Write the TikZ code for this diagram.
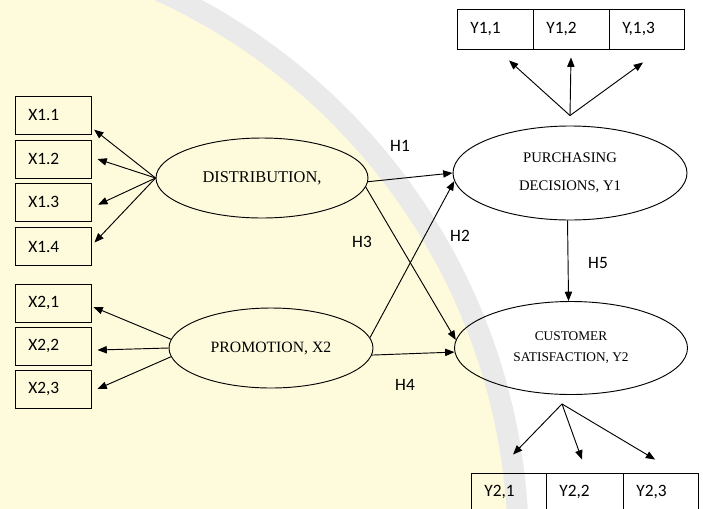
\documentclass[tikz,border=0pt]{standalone}
\usepackage{fontspec}
\setmainfont{Liberation Serif}
\newfontfamily\carl{Carlito}
\usetikzlibrary{arrows.meta,shapes.geometric,calc}
\definecolor{cream}{HTML}{FEFBDD}
\definecolor{wmgray}{HTML}{EAEAEA}
\begin{document}
\begin{tikzpicture}[x=0.75pt,y=-0.75pt,
 line width=0.7pt,
 box/.style={draw, minimum height=28.5pt, inner xsep=10pt, inner ysep=0pt, text width=#1, align=left, font=\carl\fontsize{13}{15}\selectfont},
 ell/.style={draw, ellipse, inner sep=0pt, align=center},
 hlab/.style={font=\carl\fontsize{13}{15}\selectfont},
 arr/.style={-{Triangle[length=7pt,width=5.5pt]}, line width=0.7pt},
]
\clip (0,0) rectangle (703,508);
\fill[white] (0,0) rectangle (703,508);
% faint watermark background
\fill[wmgray] (-95,549) circle[radius=468pt];
\fill[cream] (-95,549) circle[radius=452pt];

% left indicator boxes
\node[box=37pt] (X11) at (53,115) {X1.1};
\node[box=37pt] (X12) at (53,159) {X1.2};
\node[box=37pt] (X13) at (53,202) {X1.3};
\node[box=37pt] (X14) at (53,246.5) {X1.4};
\node[box=37pt] (X21) at (53,303) {X2,1};
\node[box=37pt] (X22) at (53,346) {X2,2};
\node[box=37pt] (X23) at (53,389) {X2,3};

% top boxes
\node[box=37pt, minimum height=30pt] (Y11) at (495,29) {Y1,1};
\node[box=37pt, minimum height=30pt] (Y12) at (571,29) {Y1,2};
\node[box=36.25pt, minimum height=30pt] (Y13) at (646.5,29) {Y,1,3};

% bottom boxes
\node[box=36.25pt] (Y21) at (508.5,492) {Y2,1};
\node[box=37.75pt] (Y22) at (584.5,492) {Y2,2};
\node[box=36.25pt] (Y23) at (660.5,492) {Y2,3};

% latent variables
\node[ell, minimum width=159pt, minimum height=60pt, font=\fontsize{12.3}{15}\selectfont] (D) at (262,178) {DISTRIBUTION,};
\node[ell, minimum width=153pt, minimum height=60pt, font=\fontsize{11.8}{15}\selectfont] (P) at (271,348) {PROMOTION, X2};
\node[ell, minimum width=175.5pt, minimum height=70.5pt, font=\fontsize{11}{21}\selectfont] (PD) at (570,173) {PURCHASING\\DECISIONS, Y1};
\node[ell, minimum width=174.75pt, minimum height=69.75pt, font=\fontsize{10}{15.75}\selectfont] (CS) at (571,348) {CUSTOMER\\SATISFACTION, Y2};

% fan to X1
\draw[arr] (D.west) -- ([shift={(2pt,-11pt)}]X11.east);
\draw[arr] (D.west) -- ([xshift=4.5pt]X12.east);
\draw[arr] (D.west) -- ([shift={(5pt,-2pt)}]X13.east);
\draw[arr] (D.west) -- ([shift={(2.25pt,3pt)}]X14.east);
% fan to X2
\draw[arr] (P.175) -- ([shift={(1.5pt,-3pt)}]X21.east);
\draw[arr] (P.west) -- ([shift={(4.5pt,-3pt)}]X22.east);
\draw[arr] (P.-175) -- ([xshift=4.5pt]X23.east);
% fan to Y1
\coordinate (yf) at ([yshift=7.5pt]PD.north);
\draw[arr] (yf) -- ([shift={(10.5pt,-8.25pt)}]Y11.south);
\draw[arr] (yf) -- ([yshift=-6pt]Y12.south);
\draw[arr] (yf) -- ([shift={(-2.6pt,-9.75pt)}]Y13.south);
% fan to Y2
\coordinate (zf) at ([shift={(-6.75pt,-6.75pt)}]CS.south);
\draw[arr] (zf) -- ([shift={(3.4pt,13.5pt)}]Y21.north);
\draw[arr] (zf) -- ([shift={(-1.9pt,9.75pt)}]Y22.north);
\draw[arr] (zf) -- ([shift={(-4pt,9.75pt)}]Y23.north);

% structural paths
\draw[arr] (D.-2) -- (PD.180);
\draw[arr] (D.-5) -- (CS.176);
\draw[arr] (P.6) -- (PD.-176);
\draw[arr] (P.-4) -- (CS.-178);
\draw[arr] (PD.-93) -- (CS.93);

% labels
\node[hlab] (h1) at (400,146) {H1};
\node[hlab] (h2) at (460,236) {H2};
\node[hlab] (h3) at (362,242) {H3};
\node[hlab] (h4) at (405,385) {H4};
\node[hlab] (h5) at (598,263) {H5};
\end{tikzpicture}
\end{document}
